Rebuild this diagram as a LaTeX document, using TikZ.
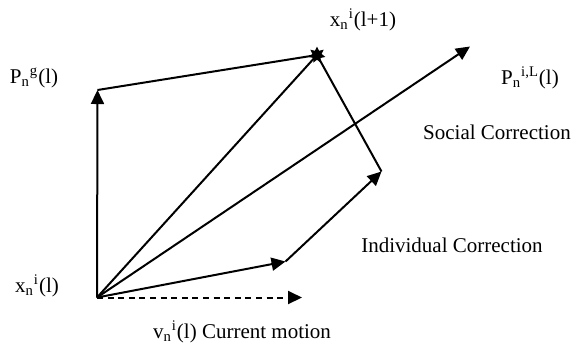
\documentclass[tikz,border=0pt]{standalone}
\usepackage{fontspec}
\setmainfont{Liberation Serif}
\usetikzlibrary{arrows.meta,shapes.geometric}
\tikzset{vec/.style={line width=1pt,-{Triangle[length=7pt,width=6.5pt]}},
  lbl/.style={inner sep=0pt,font=\fontsize{10.5}{12}\selectfont}}

\begin{document}
\begin{tikzpicture}[x=0.5pt,y=-0.5pt]
\useasboundingbox (0,0) rectangle (572,344);
% points of the construction
\coordinate (O) at (97,297.5);
\coordinate (Pg) at (97.5,90);
\coordinate (PiL) at (470,46.5);
\coordinate (V) at (285.5,261.5);
\coordinate (I) at (381.5,171.5);
\coordinate (D) at (302,297.5);
\node[star,star points=7,star point ratio=1.8,fill,inner sep=0pt,minimum size=8.5pt] (Xn) at (317,55) {};

    \draw[vec] (O) -- (Pg);
    \draw[line width=1pt] (Pg) -- (Xn.center);
    \draw[line width=1pt] (O) -- (Xn.center);
    \draw[vec] (O) -- (PiL);
    \draw[vec] (O) -- (V);
    \draw[vec] (V) -- (I);
    \draw[line width=1pt] (I) -- (Xn.center);
    \draw[vec,dash pattern=on 3pt off 2.3pt] (O) -- (D);

% labels
\node[lbl] (lxnext) at (363,20) {x\textsubscript{n}\textsuperscript{i}(l+1)};
\node[lbl] (lpg) at (34,78) {P\textsubscript{n}\textsuperscript{g}(l)};
\node[lbl] (lpil) at (530,78) {P\textsubscript{n}\textsuperscript{i,L}(l)};
\node[lbl] (lsoc) at (497,132) {Social Correction};
\node[lbl] (lind) at (452,245) {Individual Correction};
\node[lbl] (lxn) at (37,286) {x\textsubscript{n}\textsuperscript{i}(l)};
\node[lbl] (lv) at (242,332) {v\textsubscript{n}\textsuperscript{i}(l) Current motion};
\end{tikzpicture}
\end{document}
